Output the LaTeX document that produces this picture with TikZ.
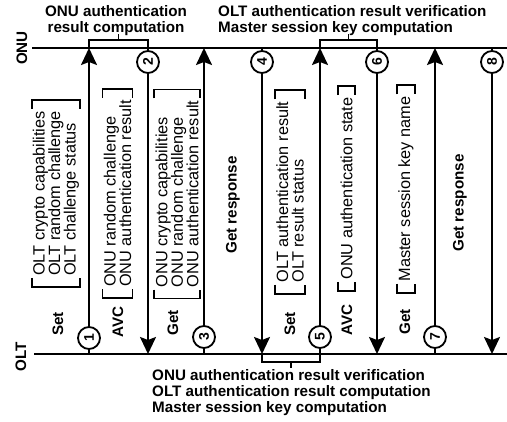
\documentclass[tikz,border=0pt]{standalone}
\usepackage{fontspec}
\setmainfont{Liberation Sans}
\usetikzlibrary{calc,arrows.meta}
\begin{document}
\begin{tikzpicture}[x=1pt,y=-1pt,
  lw/.style={line width=2pt},
  arr/.style={line width=2pt,-{Stealth[length=17pt,width=16pt,inset=3pt]}},
  num/.style={circle,draw,line width=1.8pt,minimum size=22pt,inner sep=0pt,font=\bfseries\fontsize{14}{14}\selectfont,rotate=90},
  lbl/.style={font=\bfseries\fontsize{15.2}{15}\selectfont,rotate=90,inner sep=0pt},
  blk/.style={font=\fontsize{16.3}{15.5}\selectfont,rotate=90,align=left,inner xsep=11pt,inner ysep=1pt,minimum height=17pt},
  bkt/.style={line width=1.8pt},
  note/.style={font=\bfseries\fontsize{15.2}{16}\selectfont,inner sep=0pt}
]
\useasboundingbox (0,0) rectangle (507,422);

% timelines
\coordinate (onuL) at (32,48); \coordinate (onuR) at (507,48);
\coordinate (oltL) at (34,354); \coordinate (oltR) at (507,354);
\draw[lw] (onuL) -- (onuR);
\draw[lw] (oltL) -- (oltR);
\node[lbl] (onu) at (22,48) {ONU};
\node[lbl] (olt) at (21,357) {OLT};

% numbered circles
\node[num] (c1) at (89,338) {1};
\node[num] (c2) at (148,62) {2};
\node[num] (c3) at (204,337) {3};
\node[num] (c4) at (262,62) {4};
\node[num] (c5) at (320,337) {5};
\node[num] (c6) at (377,62) {6};
\node[num] (c7) at (435,337) {7};
\node[num] (c8) at (492,62) {8};

% stubs to own line
\foreach \c in {c1,c3,c5,c7} \draw[lw] (\c) -- (\c |- oltL);
\foreach \c in {c2,c4,c6,c8} \draw[lw] (\c) -- (\c |- onuL);
% messages
\foreach \c in {c1,c3,c5,c7} \draw[arr] (\c) -- (\c |- onuL);
\foreach \c in {c2,c4,c6,c8} \draw[arr] (\c) -- (\c |- oltL);

% top brackets
\draw[bkt] (c1 |- onuL) -- ++(0,-8) -| (c2 |- onuL);
\draw[bkt] ($(c1 |- onuL)!0.5!(c2 |- onuL)+(0,-8)$) -- ++(0,-6);
\draw[bkt] (c5 |- onuL) -- ++(0,-8) -| (c6 |- onuL);
\draw[bkt] ($(c5 |- onuL)!0.5!(c6 |- onuL)+(0,-8)$) -- ++(0,-6);
% bottom bracket
\draw[bkt] (c4 |- oltL) -- ++(0,8) -| (c5 |- oltL);
\draw[bkt] ($(c4 |- oltL)!0.5!(c5 |- oltL)+(0,8)$) -- ++(0,6);

% notes
\node[note,align=center] (n1) at (116,21) {ONU authentication\\result computation};
\node[note,align=left,anchor=west] (n2) at (218,21) {OLT authentication result verification\\Master session key computation};
\node[note,align=left,anchor=north west] (n3) at (152,369) {ONU authentication result verification\\OLT authentication result computation\\Master session key computation};

% message names
\node[lbl] (m1) at (58,324) {Set};
\node[lbl] (m2) at (118,322) {AVC};
\node[lbl] (m3) at (173,323) {Get};
\node[lbl] (m4) at (233,205) {Get response};
\node[lbl] (m5) at (290,324) {Set};
\node[lbl] (m6) at (347,320) {AVC};
\node[lbl] (m7) at (405,322) {Get};
\node[lbl] (m8) at (460,203) {Get response};

% attribute blocks
\node[blk] (b1) at (56,193.5) {OLT crypto capabilities\\OLT random challenge\\OLT challenge status};
\node[blk] (b2) at (117.5,193.5) {ONU random challenge\\ONU authentication result};
\node[blk] (b3) at (177,194) {ONU crypto capabilities\\ONU random challenge\\ONU authentication result};
\node[blk] (b4) at (290,192) {OLT authentication result\\OLT result status};
\node[blk] (b5) at (346.5,188.5) {ONU authentication state};
\node[blk] (b6) at (406,189) {Master session key name};
\foreach \b in {b1,b2,b3,b4,b5,b6} {
  \draw[bkt] ($(\b.north west)+(0,-9)$) -- (\b.north west) -- (\b.south west) -- ++(0,-9);
  \draw[bkt] ($(\b.north east)+(0,9)$) -- (\b.north east) -- (\b.south east) -- ++(0,9);
}
\end{tikzpicture}
\end{document}
